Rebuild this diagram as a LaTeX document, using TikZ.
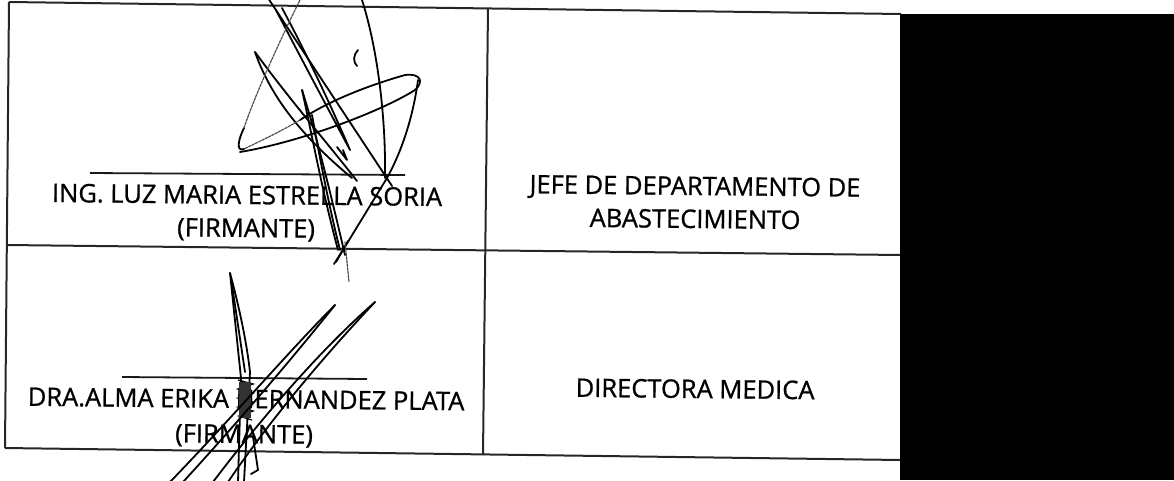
\documentclass[tikz,border=0pt]{standalone}
\usepackage{fontspec}
\setmainfont{Open Sans}
\newfontfamily\lblfont[FakeBold=0.9]{Open Sans}
\begin{document}
\begin{tikzpicture}[x=1pt,y=-1pt,
  rule/.style={line width=2pt, draw=black!85},
  signline/.style={line width=1.8pt, draw=black!90},
  ink/.style={line width=1.8pt, line cap=round, line join=round, draw=black},
  faint/.style={line width=1.2pt, draw=black!70, dash pattern=on 2.5pt off 1.2pt, line cap=round},
  lbl/.style={font=\lblfont\fontsize{25.5}{30}\selectfont, anchor=base, inner sep=0pt, rotate=-0.6}]
\useasboundingbox (0,0) rectangle (1174,480);
% table
\coordinate (TL) at (9,2);   \coordinate (TM) at (488,8);   \coordinate (TR) at (901,14);
\coordinate (ML) at (7,245); \coordinate (MM) at (486,250); \coordinate (MR) at (901,255);
\coordinate (BL) at (5,448); \coordinate (BM) at (483,455); \coordinate (BR) at (901,460);
\draw[rule] (TL) -- (TR);
\draw[rule] (ML) -- (MR);
\draw[rule] (BL) -- (BR);
\draw[rule] (TL) -- (BL);
\draw[rule] (TM) -- (BM);
% black block
\fill[black] (900,14) rectangle (1174,480);
% signature lines
\coordinate (s1a) at (90,173);  \coordinate (s1b) at (405,175);
\coordinate (s2a) at (122,377); \coordinate (s2b) at (367,379);
\draw[signline] (s1a) -- (s1b);
\draw[signline] (s2a) -- (s2b);
% texts
\node[lbl] (n1) at (247,204) {ING. LUZ MARIA ESTRELLA SORIA};
\node[lbl] (f1) at (246,237) {(FIRMANTE)};
\node[lbl] (n2) at (246,408) {DRA.ALMA ERIKA HERNANDEZ PLATA};
\node[lbl] (f2) at (244,443) {(FIRMANTE)};
\node[lbl] (j1) at (695,195) {JEFE DE DEPARTAMENTO DE};
\node[lbl] (j2) at (695,228) {ABASTECIMIENTO};
\node[lbl] (d1) at (695,398) {DIRECTORA MEDICA};
% signature 1
\draw[ink] (268,-2) -- (392,186);
\draw[ink] (282,8) .. controls (310,60) and (335,115) .. (350,150) .. controls (333,118) and (303,62) .. (276,10);
\draw[ink] (255,52) .. controls (290,100) and (325,140) .. (357,181);
\draw[ink] (255,52) .. controls (270,95) and (300,135) .. (352,178);
\draw[ink] (302,90) .. controls (318,140) and (332,200) .. (345,255);
\draw[ink] (302,90) .. controls (312,135) and (322,190) .. (338,250);
\draw[ink] (312,115) .. controls (322,170) and (330,210) .. (340,250);
\draw[ink] (240,152) .. controls (300,142) and (380,112) .. (415,90) .. controls (424,82) and (421,73) .. (405,75) .. controls (370,85) and (330,100) .. (300,120);
\draw[faint] (300,120) .. controls (280,132) and (258,142) .. (244,149);
\draw[ink] (244,149) .. controls (236,152) and (238,140) .. (244,128);
\draw[faint] (244,128) .. controls (255,95) and (280,40) .. (300,0);
\draw[ink] (418,80) .. controls (412,125) and (398,158) .. (387,178) -- (343,250) -- (334,264);
\draw[ink] (362,0) .. controls (378,50) and (386,120) .. (385,178);
\draw[ink] (358,50) .. controls (353,55) and (353,62) .. (357,66);
\draw[ink] (337,147) -- (347,160) -- (343,150);
\draw[ink] (336,262) -- (348,241);
\draw[faint] (345,242) -- (349,282);
% signature 2
\draw[ink] (230,273) -- (241,378) -- (238,482);
\draw[ink] (230,273) .. controls (240,310) and (247,345) .. (250,372) -- (244,482);
\draw[ink] (232,285) -- (245,372);
\draw[line width=1.3pt, black] (238,380) -- (253,384) -- (238,389) -- (253,393) -- (238,398) -- (253,402) -- (238,407) -- (253,411) -- (239,416) -- (252,420);
\fill[black!80] (239,382) rectangle (251,418);
\draw[ink] (335,305) .. controls (290,350) and (230,420) .. (170,482);
\draw[ink] (335,305) .. controls (295,355) and (240,420) .. (183,482);
\draw[ink] (375,302) .. controls (320,350) and (260,420) .. (213,482);
\draw[ink] (375,302) .. controls (325,355) and (270,420) .. (228,482);
\draw[ink] (253,437) -- (258,470) -- (251,474);
\end{tikzpicture}
\end{document}
